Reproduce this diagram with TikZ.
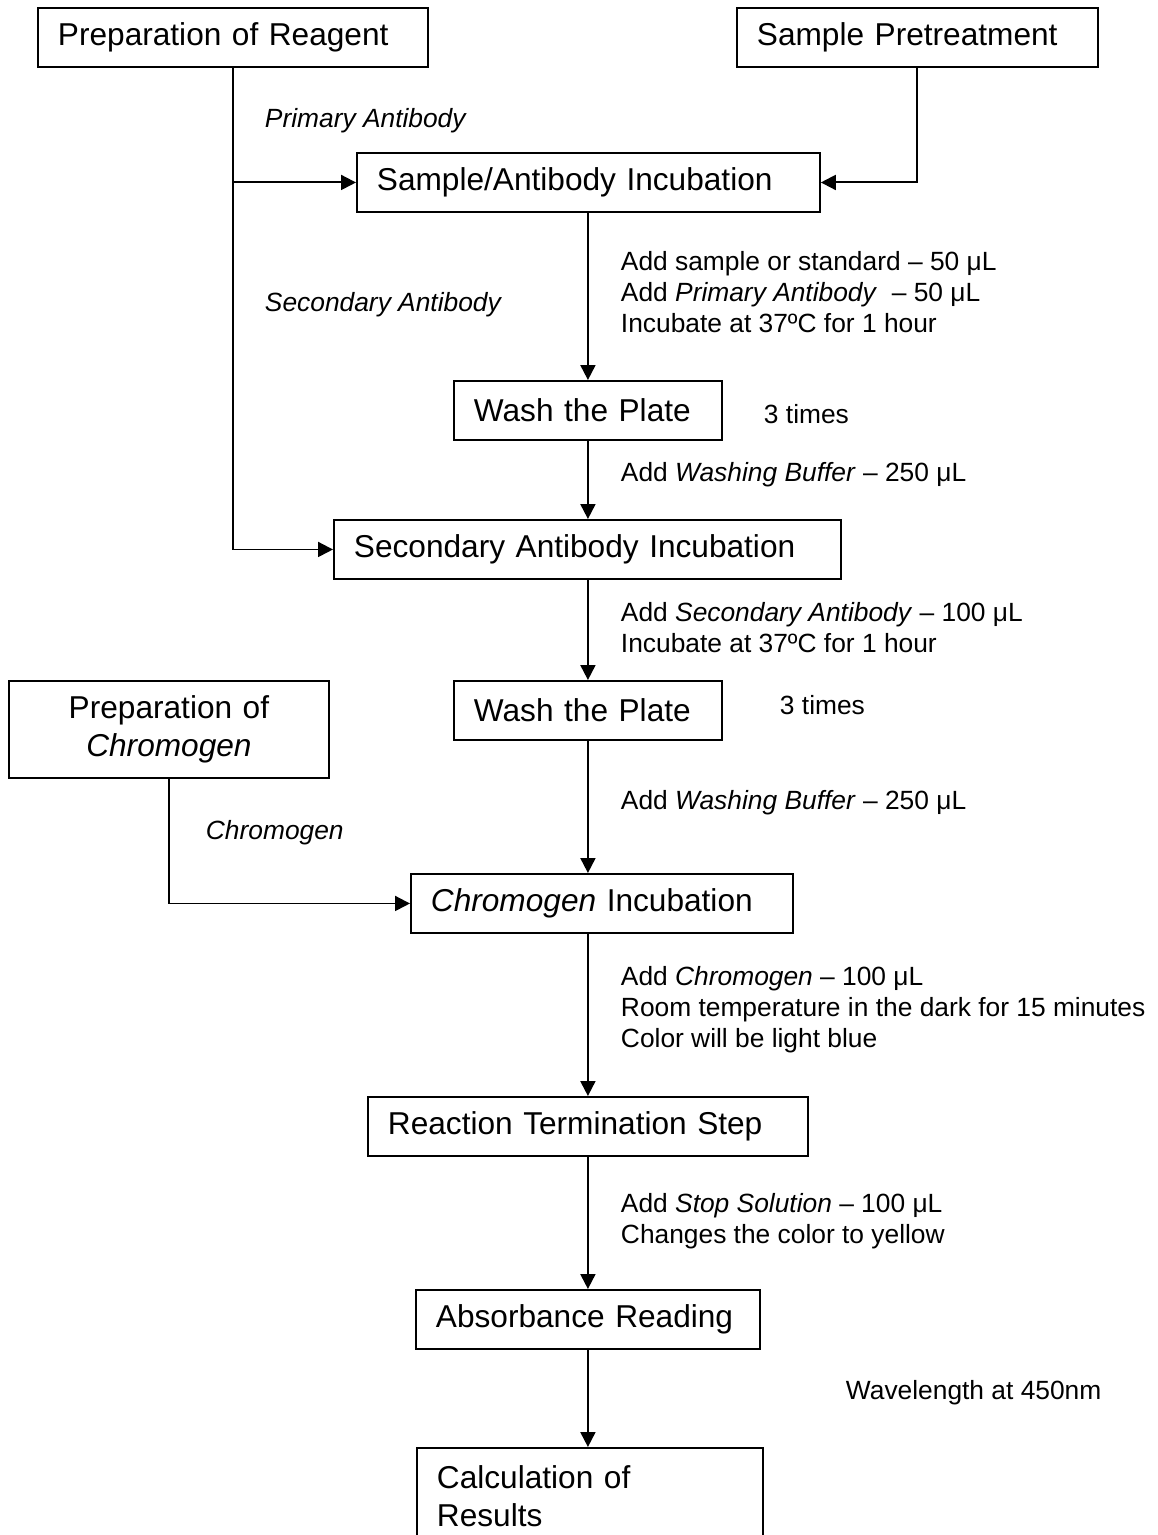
\documentclass[tikz,border=0pt]{standalone}
\usepackage{fontspec}
\setmainfont{Liberation Sans}
\usepackage{tikz}
\usetikzlibrary{arrows.meta}
\usetikzlibrary{positioning}
\newcommand\stepfont{\fontsize{18}{21.5}\selectfont}
\newcommand\notefont{\fontsize{15}{17.9}\selectfont}

\begin{document}
\begin{tikzpicture}[x=0.02cm,y=-0.02cm,line width=1.1pt,
  every node/.style={inner sep=0pt},
  stepbox/.style={draw,anchor=north west,inner xsep=0.4cm,minimum height=1.18cm,align=left,font=\stepfont},
  tallbox/.style={stepbox,minimum height=1.94cm},
  note/.style={anchor=base west,font=\notefont},
  notes/.style={anchor=north west,align=left,font=\notefont},
  line/.style={-{Triangle[length=8.5pt,width=8.5pt]}}]
  \useasboundingbox (0,0) rectangle (1157,1535);
  \clip (0,0) rectangle (1157,1535);
  \node[stepbox,text width=7cm] (1) at (37,7) {Preparation of Reagent};
  \node[stepbox,text width=6.42cm] (2) at (736,7) {Sample Pretreatment};
  \node[stepbox,text width=8.46cm] (3) at (356,152) {Sample/Antibody Incubation};
  \node[stepbox,text width=4.56cm] (4) at (453,380) {Wash the Plate};
  \node[stepbox,text width=9.34cm] (5) at (333,519) {Secondary Antibody Incubation};
  \node[stepbox,text width=4.56cm] (6) at (453,680) {Wash the Plate};
  \node[tallbox,text width=5.6cm,align=center] (7) at (8,680) {Preparation of\\\textit{Chromogen}};
  \node[stepbox,text width=6.84cm] (8) at (410,873) {\textit{Chromogen} Incubation};
  \node[stepbox,text width=8cm] (9) at (367,1096) {Reaction Termination Step};
  \node[stepbox,text width=6.08cm] (10) at (415,1289) {Absorbance Reading};
  \node[tallbox,text width=6.12cm] (11) at (416,1447) {Calculation of\\Results};
  \node[note] (n1) at (264,127) {\textit{Primary Antibody}};
  \node[note] (n2) at (264,311) {\textit{Secondary Antibody}};
  \node[note] (n3) at (205,839) {\textit{Chromogen}};
  \node[notes] (n4) at (620,250) {Add sample or standard – 50 μL\\Add \textit{Primary Antibody}\ \ – 50 μL\\Incubate at 37ºC for 1 hour};
  \node[note] (n5) at (763,423) {3 times};
  \node[note] (n6) at (620,481) {Add \textit{Washing Buffer} – 250 μL};
  \node[notes] (n7) at (620,601) {Add \textit{Secondary Antibody} – 100 μL\\Incubate at 37ºC for 1 hour};
  \node[note] (n8) at (779,714) {3 times};
  \node[note] (n9) at (620,809) {Add \textit{Washing Buffer} – 250 μL};
  \node[notes] (n10) at (620,965) {Add \textit{Chromogen} – 100 μL\\Room temperature in the dark for 15 minutes\\Color will be light blue};
  \node[notes] (n11) at (620,1192) {Add \textit{Stop Solution} – 100 μL\\Changes the color to yellow};
  \node[note] (n12) at (845,1399) {Wavelength at 450nm};
  \draw[line](1.south)|-(3.west);
  \draw[line](1.south)|-(5.west);
  \draw[line](2.south)|-(3.east);
  \draw[line](4.north|-3.south)--(4.north);
  \draw[line](4.south)--(4.south|-5.north);
  \draw[line](6.north|-5.south)--(6.north);
  \draw[line](6.south)--(6.south|-8.north);
  \draw[line](7.south)|-(8.west);
  \draw[line](9.north|-8.south)--(9.north);
  \draw[line](9.south)--(9.south|-10.north);
  \draw[line](10.south)--(10.south|-11.north);
\end{tikzpicture}
\end{document}
